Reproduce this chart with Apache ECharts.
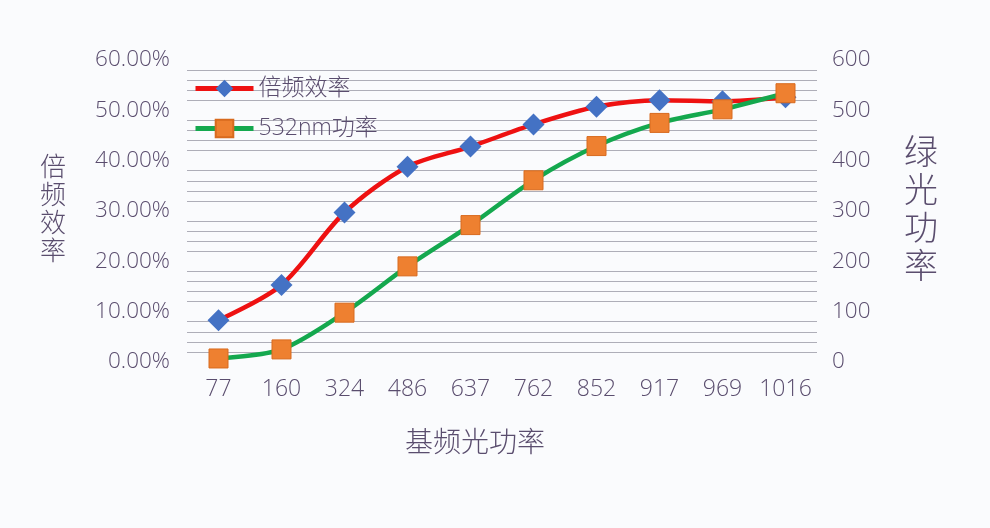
<!DOCTYPE html>
<html>
<head>
<meta charset="utf-8">
<script src="https://cdn.jsdelivr.net/npm/echarts@6/dist/echarts.min.js"></script>
<style>html,body{margin:0;padding:0;background:#fafbfd;}#c{width:990px;height:528px;}</style>
</head>
<body>
<div id="c"></div>
<script>
const categories = ['77','160','324','486','637','762','852','917','969','1016'];
const efficiency = [8.3, 15.3, 29.7, 38.8, 42.8, 47.2, 50.7, 52.0, 51.8, 52.6];
const greenPower = [7, 25, 98, 190, 272, 361, 429, 475, 502, 534];
const leftTicks = {min: 0, max: 60, interval: 10};
const rightTicks = {min: 0, max: 600, interval: 100};
const seriesNames = ['倍频效率', '532nm功率'];

const txt = '#5a4d6e';
const font = '"Open Sans", "Noto Sans CJK SC", sans-serif';
const chart = echarts.init(document.getElementById('c'));
chart.setOption({
  backgroundColor: '#fafbfd',
  textStyle: {fontFamily: font, color: txt},
  legend: {
    orient: 'vertical', left: 188, top: 72,
    itemWidth: 58, itemHeight: 22, itemGap: 17,
    lineStyle: {width: 5},
    textStyle: {fontSize: 23, color: txt, fontFamily: font, fontWeight: 300},
    data: seriesNames
  },
  grid: {left: 187, right: 173, top: 60, bottom: 166},
  xAxis: {
    type: 'category', data: categories, boundaryGap: true,
    axisLine: {show: false}, axisTick: {show: false},
    axisLabel: {fontSize: 23, color: txt, margin: 16, fontWeight: 300, interval: 0},
    name: '基频光功率', nameLocation: 'middle', nameGap: 68,
    nameTextStyle: {fontSize: 28, color: txt, fontWeight: 300, padding: [0, 54, 0, 0]}
  },
  yAxis: [{
    type: 'value', min: leftTicks.min, max: leftTicks.max, interval: leftTicks.interval,
    axisLine: {show: false}, axisTick: {show: false},
    axisLabel: {fontSize: 22.5, color: txt, margin: 17, fontWeight: 300, formatter: v => v.toFixed(2) + '%'},
    splitLine: {show: false},
    minorTick: {show: false, splitNumber: 5},
    minorSplitLine: {show: true, lineStyle: {color: '#aeaeb8', width: 1.2}},
    name: '倍\n频\n效\n率', nameLocation: 'middle', nameRotate: 0, nameGap: 134,
    nameTextStyle: {fontSize: 26, lineHeight: 28, color: txt, fontWeight: 300, align: 'center', verticalAlign: 'middle'}
  }, {
    type: 'value', min: rightTicks.min, max: rightTicks.max, interval: rightTicks.interval,
    axisLine: {show: false}, axisTick: {show: false},
    axisLabel: {fontSize: 22.5, color: txt, margin: 15, fontWeight: 300},
    splitLine: {show: false},
    name: '绿\n光\n功\n率', nameLocation: 'middle', nameRotate: 0, nameGap: 104,
    nameTextStyle: {fontSize: 34, lineHeight: 38, color: txt, fontWeight: 300, align: 'center', verticalAlign: 'middle'}
  }],
  series: [{
    name: seriesNames[0], type: 'line', yAxisIndex: 0, data: efficiency,
    smooth: 0.3, symbol: 'diamond', symbolSize: 22,
    lineStyle: {color: '#ee1111', width: 4.5},
    itemStyle: {color: '#4472c4', borderWidth: 0},
    z: 2
  }, {
    name: seriesNames[1], type: 'line', yAxisIndex: 1, data: greenPower,
    smooth: 0.3, symbol: 'rect', symbolSize: 19,
    lineStyle: {color: '#14a84e', width: 4.5},
    itemStyle: {color: '#ee8030', borderColor: '#d86a1e', borderWidth: 1},
    z: 3
  }]
});
</script>
</body>
</html>
